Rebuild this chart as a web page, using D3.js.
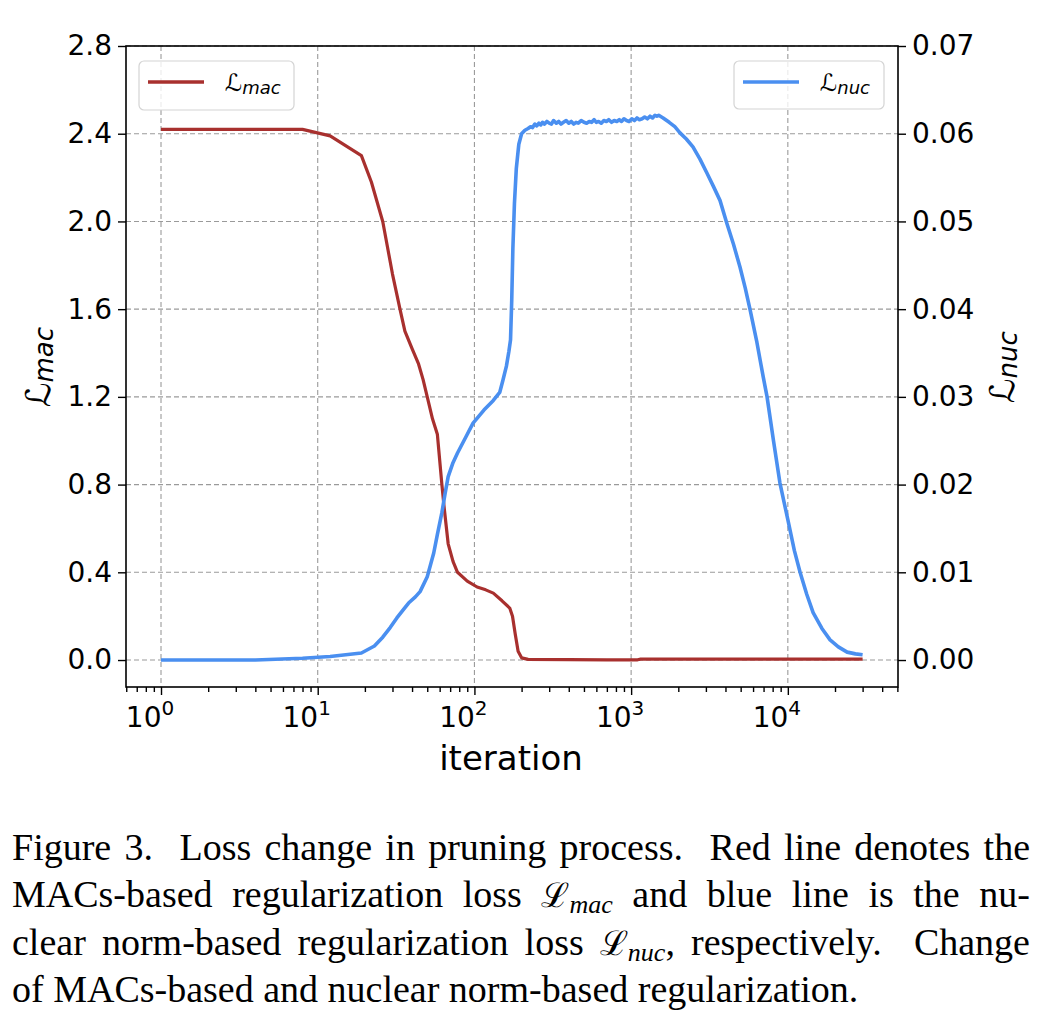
<!DOCTYPE html>
<html><head><meta charset="utf-8">
<script src="https://cdn.jsdelivr.net/npm/d3@7"></script>
<style>body{margin:0;background:#fff}</style>
</head><body><svg id="c" width="1044" height="1026"></svg>
<script>
// ---- data ----
const macIter = [1, 4, 8, 12, 19, 22, 26, 30, 33.5, 36, 40, 44, 47, 50, 54, 58, 62, 64, 68, 73, 78, 90, 104, 118, 132, 150, 168, 175, 182, 190, 200, 220, 400, 700, 1100, 1150, 3000, 10000, 30000];
const macLoss = [2.42, 2.42, 2.42, 2.39, 2.30, 2.18, 2.00, 1.76, 1.60, 1.50, 1.42, 1.35, 1.28, 1.20, 1.10, 1.03, 0.80, 0.70, 0.53, 0.45, 0.40, 0.36, 0.333, 0.32, 0.305, 0.27, 0.237, 0.20, 0.12, 0.04, 0.01, 0.003, 0.002, 0.001, 0.001, 0.004, 0.004, 0.004, 0.004];
const nucIter = [1, 4, 8, 12, 19, 23, 26, 29, 32, 35, 38, 42, 45, 50, 55, 58, 62, 65, 68, 73, 78, 88, 98, 115, 132, 145, 152, 160, 166, 170, 173, 176, 180, 185, 192, 200, 210, 220, 228, 235, 243, 250, 258, 265, 272, 280, 290, 300, 310, 320, 333, 345, 357, 370, 385, 400, 415, 430, 445, 460, 480, 500, 520, 540, 560, 580, 600, 620, 645, 670, 695, 720, 750, 780, 810, 840, 870, 900, 935, 970, 1010, 1050, 1090, 1130, 1175, 1220, 1270, 1320, 1370, 1420, 1460, 1500, 1600, 1750, 1900, 2050, 2250, 2480, 2750, 3050, 3350, 3690, 4080, 4500, 4950, 5350, 5750, 6350, 6960, 7370, 8100, 8900, 10000, 11000, 11970, 13200, 14500, 16500, 18600, 21000, 23900, 27000, 30000];
const nucLoss = [0, 0, 0.0002, 0.0004, 0.0008, 0.0016, 0.0026, 0.0037, 0.0048, 0.0057, 0.0065, 0.0072, 0.0078, 0.0095, 0.0122, 0.0143, 0.0168, 0.0190, 0.0209, 0.0225, 0.0236, 0.0254, 0.0270, 0.0285, 0.0296, 0.0305, 0.0319, 0.0335, 0.0352, 0.0365, 0.0410, 0.0470, 0.0520, 0.0560, 0.0588, 0.0600, 0.0604, 0.0606, 0.0608, 0.0607, 0.0611, 0.0609, 0.0612, 0.0610, 0.0613, 0.0611, 0.0614, 0.0612, 0.0611, 0.0615, 0.0612, 0.0614, 0.0611, 0.0613, 0.0615, 0.0612, 0.0614, 0.0611, 0.0613, 0.0612, 0.0615, 0.0613, 0.0612, 0.0614, 0.0613, 0.0616, 0.0613, 0.0614, 0.0612, 0.0615, 0.0614, 0.0616, 0.0613, 0.0615, 0.0614, 0.0616, 0.0614, 0.0617, 0.0615, 0.0614, 0.0617, 0.0615, 0.0618, 0.0616, 0.0617, 0.0619, 0.0617, 0.0620, 0.0618, 0.0621, 0.0620, 0.0621, 0.0618, 0.0613, 0.0608, 0.0601, 0.0594, 0.0585, 0.0571, 0.0555, 0.0540, 0.0524, 0.0498, 0.0474, 0.0448, 0.0424, 0.0399, 0.0362, 0.0323, 0.0300, 0.0250, 0.0202, 0.0160, 0.0125, 0.0100, 0.0075, 0.0054, 0.0036, 0.0023, 0.0015, 0.0009, 0.0007, 0.0006];
const xTickExps = [0, 1, 2, 3, 4];
const yLeftTicks = [0.0, 0.4, 0.8, 1.2, 1.6, 2.0, 2.4, 2.8];
const yRightTicks = [0.00, 0.01, 0.02, 0.03, 0.04, 0.05, 0.06, 0.07];
const captionLines = [
  [["Figure 3.  Loss change in pruning process.  Red line denotes the"]],
  [["MACs-based regularization loss "], ["ℒ", "cal"], ["mac", "sub"], [" and blue line is the nu-"]],
  [["clear norm-based regularization loss "], ["ℒ", "cal"], ["nuc", "sub"], [", respectively.  Change"]],
  [["of MACs-based and nuclear norm-based regularization."]]
];

// ---- layout ----
const L = 126, R = 898, T = 46, B = 687;
const svg = d3.select("#c");
svg.append("rect").attr("width", 1044).attr("height", 1026).attr("fill", "#fff");

const x = d3.scaleLog().domain([Math.pow(10, -0.2234), Math.pow(10, 4.703)]).range([L, R]);
const yL = d3.scaleLinear().domain([-0.123, 2.8]).range([B, T]);
const yR = d3.scaleLinear().domain([-0.003075, 0.07]).range([B, T]);

const tickFont = "DejaVu Sans, sans-serif";
const grid = svg.append("g").attr("stroke", "#9a9a9a").attr("stroke-width", 1.1).attr("stroke-dasharray", "5,3");
xTickExps.forEach(e => {
  const px = x(Math.pow(10, e));
  grid.append("line").attr("x1", px).attr("x2", px).attr("y1", T).attr("y2", B);
});
yLeftTicks.forEach(v => {
  grid.append("line").attr("x1", L).attr("x2", R).attr("y1", yL(v)).attr("y2", yL(v));
});

// lines
svg.append("clipPath").attr("id", "clp").append("rect").attr("x", L).attr("y", T).attr("width", R - L).attr("height", B - T);
const macLine = d3.line().x((d, i) => x(macIter[i])).y(d => yL(d));
const nucLine = d3.line().x((d, i) => x(nucIter[i])).y(d => yR(d));
svg.append("path").attr("d", macLine(macLoss)).attr("fill", "none").attr("stroke", "#a8302e").attr("stroke-width", 3.2).attr("stroke-linejoin", "round").attr("clip-path", "url(#clp)");
svg.append("path").attr("d", nucLine(nucLoss)).attr("fill", "none").attr("stroke", "#4a8ff0").attr("stroke-width", 3.6).attr("stroke-linejoin", "round").attr("clip-path", "url(#clp)");

// axes
const axB = svg.append("g").attr("transform", `translate(0,${B})`);
axB.call(d3.axisBottom(x).tickValues(xTickExps.map(e => Math.pow(10, e))).tickSize(8).tickFormat(""));
const minorVals = [];
for (let e = -1; e <= 4; e++) for (let m = 2; m <= 9; m++) { const v = m * Math.pow(10, e); if (v >= x.domain()[0] && v <= x.domain()[1]) minorVals.push(v); }
axB.append("g").call(d3.axisBottom(x).tickValues(minorVals).tickSize(5).tickFormat(""));
axB.selectAll(".domain").remove();
xTickExps.forEach(e => {
  const t = axB.append("text").attr("x", x(Math.pow(10, e)) - 11).attr("y", 40).attr("text-anchor", "middle")
    .attr("font-family", tickFont).attr("font-size", 28).attr("fill", "#000");
  t.append("tspan").text("10");
  t.append("tspan").attr("dy", -12).attr("font-size", 20).text(e);
});

const axLg = svg.append("g").attr("transform", `translate(${L},0)`);
axLg.call(d3.axisLeft(yL).tickValues(yLeftTicks).tickSize(8).tickFormat(d3.format(".1f")).tickPadding(6));
axLg.selectAll(".domain").remove();
axLg.selectAll("text").attr("font-family", tickFont).attr("font-size", 28).attr("fill", "#000");

const axRg = svg.append("g").attr("transform", `translate(${R},0)`);
axRg.call(d3.axisRight(yR).tickValues(yRightTicks).tickSize(8).tickFormat(d3.format(".2f")).tickPadding(6));
axRg.selectAll(".domain").remove();
axRg.selectAll("text").attr("font-family", tickFont).attr("font-size", 28).attr("fill", "#000");
svg.selectAll(".tick line").attr("stroke", "#000").attr("stroke-width", 1.4);

svg.append("rect").attr("x", L).attr("y", T).attr("width", R - L).attr("height", B - T)
  .attr("fill", "none").attr("stroke", "#000").attr("stroke-width", 1.6);

// axis labels
svg.append("text").attr("x", 511).attr("y", 770).attr("text-anchor", "middle")
  .attr("font-family", tickFont).attr("font-size", 34).attr("fill", "#000").text("iteration");

function mathLabel(g, sub, big, small, dy) {
  g.append("tspan").attr("font-size", big).text("ℒ");
  g.append("tspan").attr("font-size", small).attr("font-style", "italic").attr("dy", dy).text(sub);
}
const ylab = svg.append("text").attr("transform", "translate(50,367) rotate(-90)").attr("text-anchor", "middle")
  .attr("font-family", tickFont).attr("fill", "#000");
mathLabel(ylab, "mac", 34, 26, 3);
const yrlab = svg.append("text").attr("transform", "translate(1014,367) rotate(-90)").attr("text-anchor", "middle")
  .attr("font-family", tickFont).attr("fill", "#000");
mathLabel(yrlab, "nuc", 34, 26, 3);

// legends
function legend(x0, y0, w, h, color, sub) {
  const g = svg.append("g");
  g.append("rect").attr("x", x0).attr("y", y0).attr("width", w).attr("height", h).attr("rx", 5)
    .attr("fill", "#fff").attr("fill-opacity", 0.8).attr("stroke", "#d4d4d4").attr("stroke-width", 1.2);
  g.append("line").attr("x1", x0 + 9).attr("x2", x0 + 65).attr("y1", y0 + 21).attr("y2", y0 + 21)
    .attr("stroke", color).attr("stroke-width", 3.4);
  const t = g.append("text").attr("x", x0 + 86).attr("y", y0 + 30).attr("font-family", tickFont).attr("fill", "#000");
  mathLabel(t, sub, 24, 18, 3);
}
legend(139, 61, 155, 49, "#a8302e", "mac");
legend(734, 61, 150, 48, "#4a8ff0", "nuc");

// caption
const capFont = "Liberation Serif, Times New Roman, serif";
const capX0 = 12, capX1 = 1030;
const baselines = [860, 907, 955, 1002];
captionLines.forEach((parts, i) => {
  const t = svg.append("text").attr("x", capX0).attr("y", baselines[i]).attr("font-family", capFont)
    .attr("font-size", 38).attr("fill", "#000").attr("xml:space", "preserve");
  parts.forEach((p, j) => {
    const s = t.append("tspan").text(p[0]);
    if (p[1] === "cal") s.attr("font-family", "DejaVu Serif, serif").attr("font-size", 34);
    if (p[1] === "sub") s.attr("font-style", "italic").attr("font-size", 26).attr("dy", 6);
    if (p[1] === undefined && j > 0 && parts[j - 1][1] === "sub") s.attr("dy", -6);
  });
  if (i < 3) {
    const nat = t.node().getComputedTextLength();
    const spaces = parts.map(p => p[0]).join("").split(" ").length - 1;
    t.attr("word-spacing", (capX1 - capX0 - nat) / spaces);
  }
});
</script>
</body></html>
